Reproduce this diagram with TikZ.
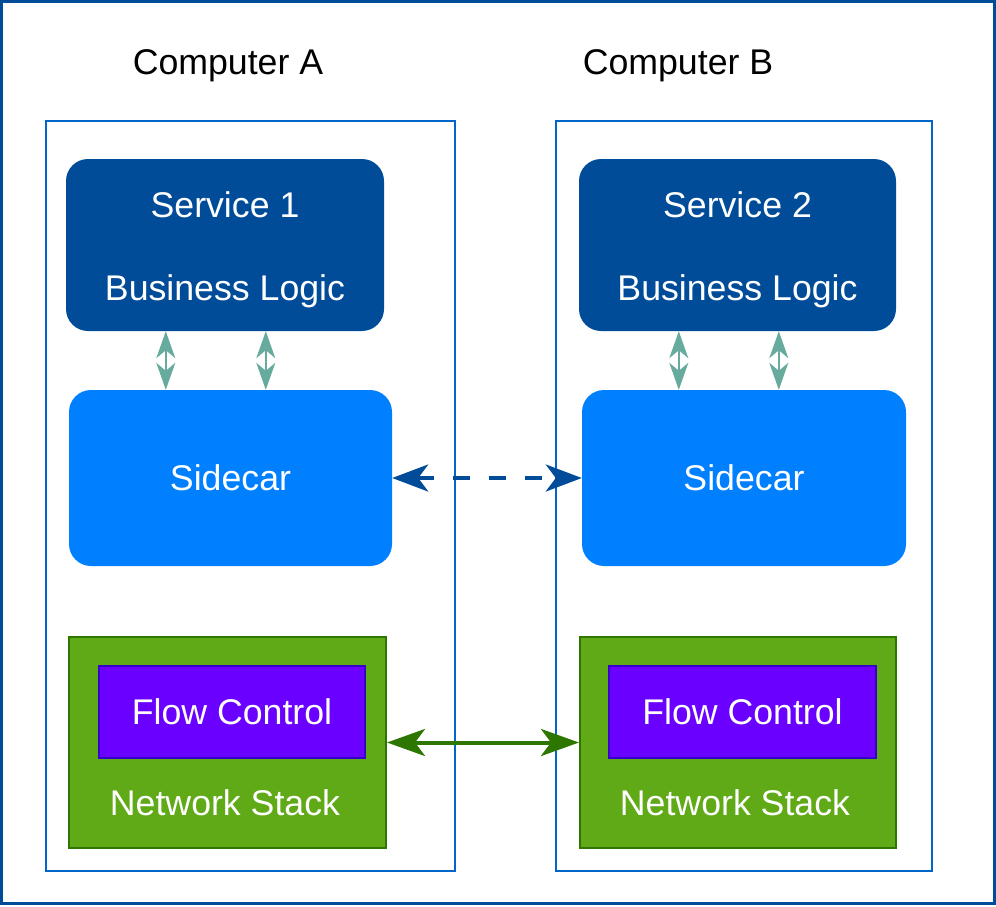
\documentclass[tikz,border=0pt]{standalone}
\usepackage{fontspec}
\setmainfont{Liberation Sans}
\usepackage{xcolor}
\usepackage{tikz}
\usetikzlibrary{arrows.meta}

\definecolor{frameblue}{HTML}{004C99}
\definecolor{boxblue}{HTML}{0066CC}
\definecolor{svcblue}{HTML}{004C99}
\definecolor{carblue}{HTML}{007FFF}
\definecolor{linkteal}{HTML}{67AB9F}
\definecolor{netgreen}{HTML}{60A917}
\definecolor{darkgreen}{HTML}{2D7600}
\definecolor{flowviolet}{HTML}{6A00FF}
\definecolor{flowedge}{HTML}{3700CC}

\tikzset{
  bigtext/.style={font=\fontsize{35.7}{42}\selectfont},
  computer/.style={draw=boxblue, line width=2pt, minimum height=750pt},
  service/.style={fill=svcblue, rounded corners=22pt, minimum height=172pt},
  sidecar/.style={fill=carblue, rounded corners=22pt, minimum height=176pt, text=white, bigtext},
  netstack/.style={fill=netgreen, draw=darkgreen, line width=2pt, minimum height=211pt},
  flowbox/.style={fill=flowviolet, draw=flowedge, line width=1.5pt, minimum height=92pt, text=white, bigtext},
  boxtext/.style={text=white, align=center, bigtext},
  tealarrow/.style={color=linkteal, line width=1.5pt, {Stealth[length=27pt, width=19pt, inset=8pt]}-{Stealth[length=27pt, width=19pt, inset=8pt]}},
  dasharrow/.style={color=frameblue, line width=4pt, dash pattern=on 17pt off 19pt, {Stealth[length=36pt, width=27pt, inset=10pt]}-{Stealth[length=36pt, width=27pt, inset=10pt]}},
  greenarrow/.style={color=darkgreen, line width=4pt, {Stealth[length=38pt, width=27pt, inset=10pt]}-{Stealth[length=38pt, width=27pt, inset=10pt]}}
}

\begin{document}
\begin{tikzpicture}[x=1pt, y=1pt]
    \useasboundingbox (0,0) rectangle (996,-906);
    \draw[frameblue, line width=3pt] (1.5,-1.5) rectangle (994.5,-903.5);

    \node[bigtext] (labA) at (228,-66) {Computer A};
    \node[bigtext] (labB) at (678,-66) {Computer B};
    \node[computer, minimum width=409pt] (compA) at (250.5,-496) {};
    \node[computer, minimum width=376pt] (compB) at (744,-496) {};

    \node[service, minimum width=318pt] (svcA) at (225,-245) {};
    \node[service, minimum width=317pt] (svcB) at (737.5,-245) {};
    \node[boxtext] (svcAtext) at (225,-250) {Service 1\\[41pt]Business Logic};
    \node[boxtext] (svcBtext) at (737.5,-250) {Service 2\\[41pt]Business Logic};
    \node[sidecar, minimum width=323pt] (carA) at (230.5,-478) {Sidecar};
    \node[sidecar, minimum width=324pt] (carB) at (744,-478) {Sidecar};

    \node[netstack, minimum width=317pt] (nsA) at (227.5,-742.5) {};
    \node[netstack, minimum width=316pt] (nsB) at (738,-742.5) {};
    \node[flowbox, minimum width=266pt] (fcA) at (232,-712) {Flow Control};
    \node[flowbox, minimum width=267pt] (fcB) at (742.5,-712) {Flow Control};
    \node[boxtext] (nsAtext) at (225,-803) {Network Stack};
    \node[boxtext] (nsBtext) at (735,-803) {Network Stack};

    \path [tealarrow] ([xshift=100pt]svcA.south west) edge ([xshift=97pt]carA.north west);
    \path [tealarrow] ([xshift=200pt]svcA.south west) edge ([xshift=197pt]carA.north west);
    \path [tealarrow] ([xshift=100pt]svcB.south west) edge ([xshift=97pt]carB.north west);
    \path [tealarrow] ([xshift=200pt]svcB.south west) edge ([xshift=197pt]carB.north west);
    \path [dasharrow] (carA.east) edge (carB.west);
    \path [greenarrow] (nsA.east) edge (nsB.west);
\end{tikzpicture}
\end{document}
